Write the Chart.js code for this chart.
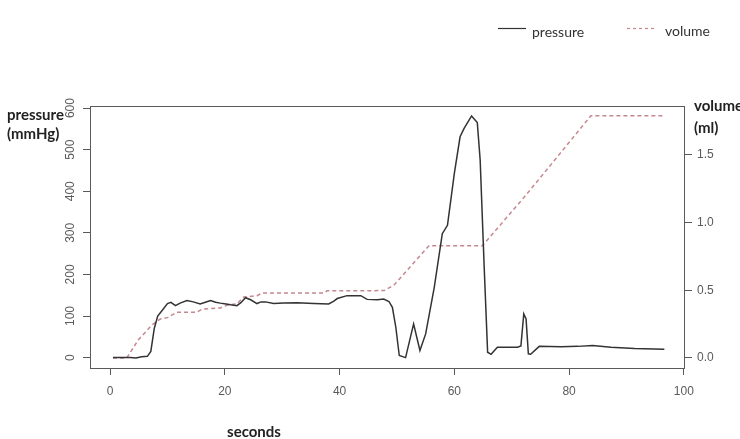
<!DOCTYPE html>
<html>
<head>
<meta charset="utf-8">
<script src="https://cdn.jsdelivr.net/npm/chart.js@4.4.0/dist/chart.umd.min.js"></script>
<style>
  html, body { margin: 0; padding: 0; background: #fff; }
</style>
</head>
<body>
<canvas id="chart" width="740" height="439"></canvas>
<script>
// pressure trace (seconds, mmHg)
const pressureTime = [0.5, 2, 3.5, 4.5, 5.5, 6.5, 7.1, 7.7, 8.3, 9.0, 10.0, 10.6, 11.4, 12.2, 13.4, 14.5,
  15.7, 16.6, 17.5, 18.4, 19.2, 20.2, 21.0, 22.1, 22.8, 23.6, 24.5, 25.6, 26.3, 27.1, 28.5, 30.3, 32.6,
  35.5, 38.1, 39.0, 39.6, 41.3, 43.7, 44.8, 46.6, 47.7, 48.6, 49.2, 49.8, 50.4, 51.5, 52.9, 54.0, 55.0,
  56.5, 57.9, 58.8, 60.0, 61.0, 61.7, 63.0, 64.0, 64.5, 65.2, 65.8, 66.4, 67.5, 71.0, 71.6, 72.1, 72.5,
  72.9, 73.3, 74.8, 78.6, 81.5, 84.1, 87.3, 91.4, 96.6];
const pressureValues = [0, 0, 0, -1, 2, 3, 15, 70, 100, 112, 130, 133, 125, 131, 137, 134,
  129, 133, 137, 133, 131, 129, 127, 125, 132, 144, 139, 130, 134, 134, 130, 131, 132,
  130, 129, 136, 142, 149, 149, 140, 139, 141, 135, 121, 73, 5, 0, 81, 17, 57,
  169, 298, 318, 443, 531, 551, 581, 565, 475, 218, 13, 8, 25, 25, 28, 105, 93,
  9, 8, 27, 26, 27, 29, 25, 22, 20];

// volume trace (seconds, ml)
const volumeTime = [0.5, 2.9, 4.9, 7.3, 8.7, 10.1, 11.6, 15.1, 16.0, 19.2, 20.4, 22.1, 23.3, 25.6, 26.5,
  37.3, 37.8, 47.8, 49.5, 55.6, 64.9, 72.2, 75.7, 83.8, 96.6];
const volumeValues = [0, 0, 0.133, 0.244, 0.287, 0.30, 0.338, 0.338, 0.36, 0.37, 0.39, 0.40, 0.45, 0.46, 0.48,
  0.48, 0.496, 0.498, 0.54, 0.83, 0.83, 1.19, 1.37, 1.79, 1.79];

const xTicks = [0, 20, 40, 60, 80, 100];
const pressureTicks = [0, 100, 200, 300, 400, 500, 600];
const volumeTicks = [0, 0.5, 1.0, 1.5];
const volumeTickLabels = ['0.0', '0.5', '1.0', '1.5'];

const tickFont = { family: '"Liberation Sans", Arial, sans-serif', size: 12 };
const axisGray = '#5a5a5a';
const volumeColor = '#c58890';

const toPoints = (xs, ys) => xs.map((x, i) => ({ x: x, y: ys[i] }));
const setTicks = list => scale => { scale.ticks = list.map(v => ({ value: v })); };

// box, rotated left labels, axis titles and legend (R-style)
const decorations = {
  id: 'decorations',
  afterDraw(chart) {
    const { ctx, chartArea: a, scales } = chart;
    ctx.save();
    ctx.strokeStyle = axisGray;
    ctx.lineWidth = 1;
    ctx.strokeRect(a.left + 0.5, a.top + 0.5, a.right - a.left - 1, a.bottom - a.top);

    ctx.fillStyle = axisGray;
    ctx.font = '12px "Liberation Sans", Arial, sans-serif';
    ctx.textAlign = 'center';
    ctx.textBaseline = 'middle';
    scales.y.ticks.forEach(t => {
      const py = scales.y.getPixelForValue(t.value);
      ctx.save();
      ctx.translate(71, py);
      ctx.rotate(-Math.PI / 2);
      ctx.fillText(String(t.value), 0, 0);
      ctx.restore();
    });

    ctx.fillStyle = '#222';
    ctx.font = 'bold 15px Lato, sans-serif';
    ctx.textAlign = 'left';
    ctx.fillText('pressure', 7, 115);
    ctx.fillText('(mmHg)', 7, 134);
    ctx.fillText('volume', 694, 106);
    ctx.fillText('(ml)', 694, 128);
    ctx.textAlign = 'center';
    ctx.fillText('seconds', 254, 432);

    // legend
    ctx.lineWidth = 1.2;
    ctx.strokeStyle = '#333';
    ctx.beginPath(); ctx.moveTo(498, 28.5); ctx.lineTo(526, 28.5); ctx.stroke();
    ctx.strokeStyle = volumeColor;
    ctx.setLineDash([3, 3]);
    ctx.beginPath(); ctx.moveTo(627, 28.5); ctx.lineTo(656, 28.5); ctx.stroke();
    ctx.setLineDash([]);
    ctx.fillStyle = '#333';
    ctx.font = '14px Lato, sans-serif';
    ctx.textAlign = 'left';
    ctx.fillText('pressure', 532, 32);
    ctx.fillText('volume', 665, 31);
    ctx.restore();
  }
};

new Chart(document.getElementById('chart'), {
  type: 'line',
  data: {
    datasets: [{
      label: 'pressure',
      data: toPoints(pressureTime, pressureValues),
      yAxisID: 'y',
      borderColor: '#333',
      borderWidth: 1.5,
      pointRadius: 0,
      tension: 0
    }, {
      label: 'volume',
      data: toPoints(volumeTime, volumeValues),
      yAxisID: 'y1',
      borderColor: volumeColor,
      borderWidth: 1.5,
      borderDash: [4, 3],
      pointRadius: 0,
      tension: 0
    }]
  },
  options: {
    responsive: false,
    devicePixelRatio: 1,
    animation: false,
    layout: { padding: { top: 106, left: 0, right: 0, bottom: 0 } },
    plugins: { legend: { display: false }, tooltip: { enabled: false } },
    scales: {
      x: {
        type: 'linear',
        position: 'bottom',
        min: -3.5,
        max: 100.2,
        afterBuildTicks: setTicks(xTicks),
        afterFit: s => { s.height = 71; },
        grid: { drawOnChartArea: false, color: axisGray, tickLength: 7 },
        border: { display: false },
        ticks: { color: axisGray, font: tickFont, padding: 9, maxRotation: 0 }
      },
      y: {
        type: 'linear',
        position: 'left',
        min: -25,
        max: 605,
        afterBuildTicks: setTicks(pressureTicks),
        afterFit: s => { s.width = 90; },
        grid: { drawOnChartArea: false, color: axisGray, tickLength: 7 },
        border: { display: false },
        ticks: { display: false }
      },
      y1: {
        type: 'linear',
        position: 'right',
        min: -0.074,
        max: 1.862,
        afterBuildTicks: setTicks(volumeTicks),
        afterFit: s => { s.width = 55; },
        grid: { drawOnChartArea: false, color: axisGray, tickLength: 7 },
        border: { display: false },
        ticks: {
          color: axisGray,
          font: tickFont,
          padding: 5,
          callback: (v, i) => volumeTickLabels[i]
        }
      }
    }
  },
  plugins: [decorations]
});
</script>
</body>
</html>
